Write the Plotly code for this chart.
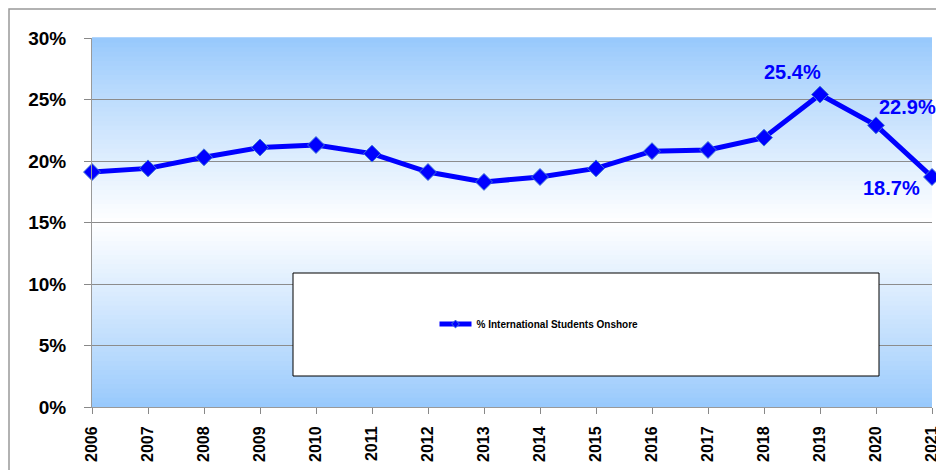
import plotly.graph_objects as go

ANIOS = list(range(2006, 2022))
PCT_INTERNACIONAL = [19.1, 19.4, 20.3, 21.1, 21.3, 20.6, 19.1, 18.3, 18.7, 19.4,
                     20.8, 20.9, 21.9, 25.4, 22.9, 18.7]
NOMBRE_SERIE = "% International Students Onshore"
Y_TICKS = [0, 5, 10, 15, 20, 25, 30]
Y_TICK_TEXTO = [f"{v}%" for v in Y_TICKS]

# etiquetas de los ultimos anos: (indice, desplazamiento x, desplazamiento y)
ETIQUETAS = [(13, -28, 23), (14, 31, 18), (15, -41, -11)]

AZUL = "#0000FF"
FUENTE = "Arial, Liberation Sans, sans-serif"

ANCHO, ALTO = 936, 470
M_IZQ, M_DER, M_SUP, M_INF = 92, 4, 38, 63


def px_a_paper_x(px):
    return (px - M_IZQ) / (ANCHO - M_IZQ - M_DER)


def px_a_paper_y(py):
    return (ALTO - M_INF - py) / (ALTO - M_SUP - M_INF)


def mezclar(c1, c2, t):
    return "rgb({},{},{})".format(*[round(a + (b - a) * t) for a, b in zip(c1, c2)])


def franjas_degradado(n=80):
    azul = (150, 200, 252)
    blanco = (255, 255, 255)
    formas = []
    for i in range(n):
        y0 = i / n
        y1 = (i + 1) / n
        centro = (y0 + y1) / 2
        t = 1 - abs(centro - 0.5) * 2
        formas.append(dict(
            type="rect", xref="x domain", yref="y domain",
            x0=0, x1=1, y0=y0, y1=y1 + 0.002,
            fillcolor=mezclar(azul, blanco, t ** 0.9),
            line=dict(width=0), layer="below",
        ))
    return formas


fig = go.Figure()
fig.add_trace(go.Scatter(
    x=ANIOS,
    y=PCT_INTERNACIONAL,
    mode="lines+markers",
    name=NOMBRE_SERIE,
    line=dict(color=AZUL, width=5),
    marker=dict(symbol="diamond", size=13, color=AZUL,
                line=dict(color="#3F74D6", width=1)),
    cliponaxis=False,
    showlegend=False,
))
# entrada de leyenda con marcador pequeno
fig.add_trace(go.Scatter(
    x=[None], y=[None],
    mode="lines+markers",
    name=NOMBRE_SERIE,
    line=dict(color=AZUL, width=5),
    marker=dict(symbol="diamond", size=6, color=AZUL,
                line=dict(color="#3F74D6", width=1)),
    showlegend=True,
))

for i, dx, dy in ETIQUETAS:
    fig.add_annotation(
        x=ANIOS[i], y=PCT_INTERNACIONAL[i],
        text=f"{PCT_INTERNACIONAL[i]}%",
        showarrow=False, xshift=dx, yshift=dy,
        font=dict(family=FUENTE, size=20, color=AZUL, weight="bold"),
    )

formas = franjas_degradado()
# caja blanca de la leyenda
formas.append(dict(
    type="rect", xref="paper", yref="paper",
    x0=px_a_paper_x(293), x1=px_a_paper_x(879),
    y0=px_a_paper_y(376), y1=px_a_paper_y(273),
    fillcolor="white", line=dict(color="black", width=1), layer="above",
))
# borde exterior del grafico
formas.append(dict(
    type="rect", xref="paper", yref="paper",
    x0=px_a_paper_x(9), x1=px_a_paper_x(960),
    y0=px_a_paper_y(500), y1=px_a_paper_y(9),
    fillcolor="rgba(0,0,0,0)", line=dict(color="#999999", width=1.5),
    layer="above",
))

fig.update_xaxes(
    range=[2006, 2021],
    tickvals=ANIOS,
    ticktext=[str(a) for a in ANIOS],
    tickangle=-90,
    ticks="outside", ticklen=6, tickcolor="#888888",
    showgrid=False, zeroline=False,
    showline=True, linecolor="#999999", linewidth=1,
    tickfont=dict(family=FUENTE, size=16, color="black", weight="bold"),
    ticklabelstandoff=6,
    ticklabeloverflow="allow",
    automargin=False,
)
fig.update_yaxes(
    range=[0, 30],
    tickvals=Y_TICKS,
    ticktext=Y_TICK_TEXTO,
    ticks="outside", ticklen=7, tickcolor="#888888",
    showgrid=True, gridcolor="#8C8C8C", gridwidth=1,
    zeroline=False,
    showline=True, linecolor="#999999", linewidth=1,
    tickfont=dict(family=FUENTE, size=19, color="black", weight="bold"),
    ticklabelstandoff=14,
    automargin=False,
)
fig.update_layout(
    width=ANCHO, height=ALTO,
    margin=dict(l=M_IZQ, r=M_DER, t=M_SUP, b=M_INF),
    plot_bgcolor="white",
    paper_bgcolor="white",
    shapes=formas,
    showlegend=True,
    legend=dict(
        x=px_a_paper_x(539), y=px_a_paper_y(324),
        xanchor="center", yanchor="middle",
        bgcolor="rgba(0,0,0,0)",
        font=dict(family=FUENTE, size=10, color="black", weight="bold"),
        itemwidth=32,
    ),
    hovermode="closest",
)

fig.write_html(
    "out.html",
    config={"displayModeBar": False},
    post_script="document.body.style.margin='0';",
)
